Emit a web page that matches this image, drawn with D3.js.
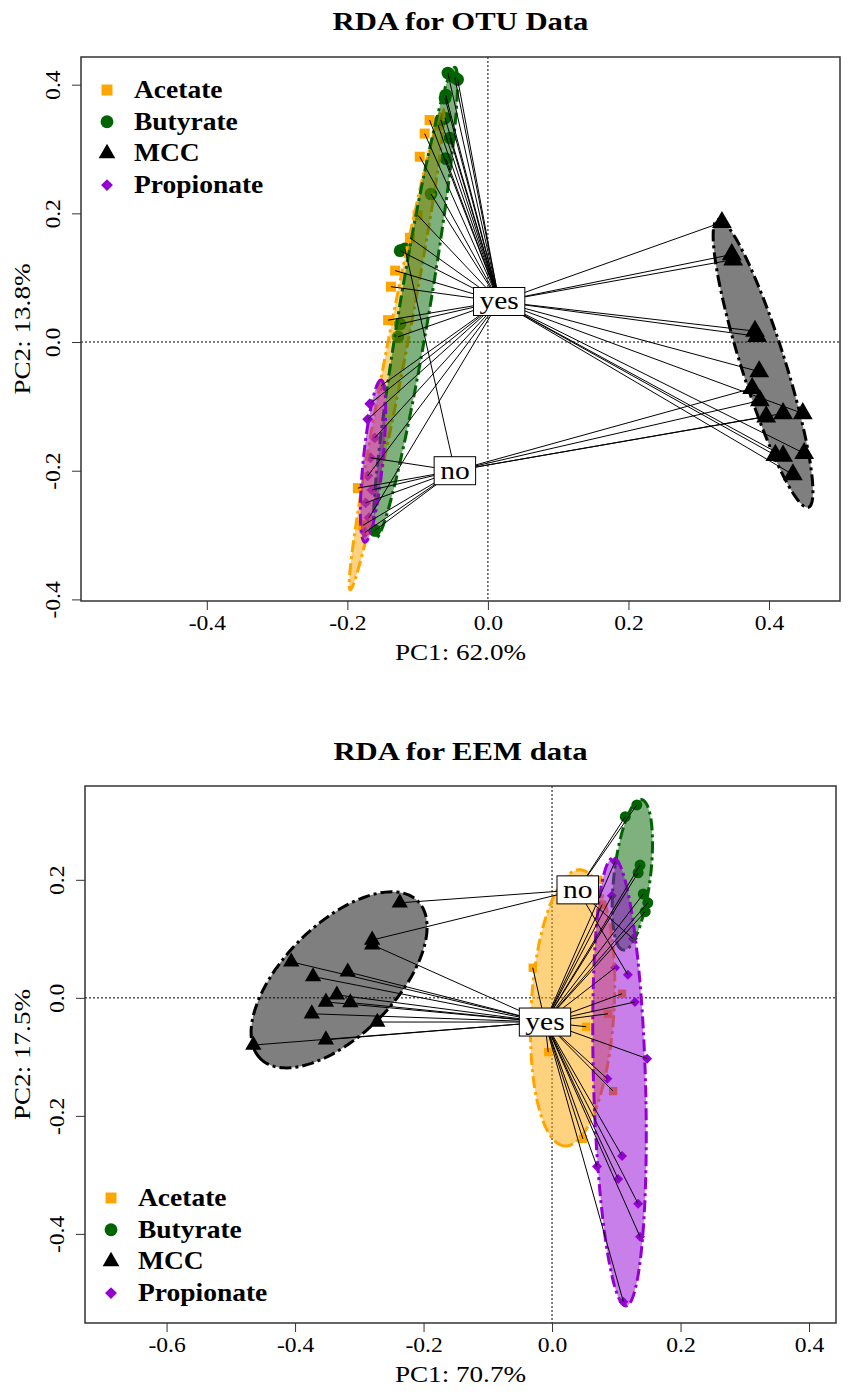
<!DOCTYPE html>
<html>
<head>
<meta charset="utf-8">
<script src="https://cdn.jsdelivr.net/npm/d3@7"></script>
<style>
  body { margin: 0; background: #fff; }
  text { font-family: "Liberation Serif", "Times New Roman", serif; fill: #000; }
</style>
</head>
<body>
<svg id="chart" width="851" height="1396"></svg>
<script>
// groups, shared by both panels
var groups = ["Acetate", "Butyrate", "MCC", "Propionate"]
var colors = ["#FFA500", "#006400", "#000000", "#9400D3"]
var shapes = [d3.symbolSquare, d3.symbolCircle, d3.symbolTriangle, d3.symbolSquare]

// RDA for OTU data: [PC1, PC2, level]
var otuAcetate = [[-0.083, 0.345, "yes"], [-0.071, 0.337, "yes"], [-0.090, 0.324, "yes"], [-0.097, 0.288, "yes"],
  [-0.100, 0.197, "yes"], [-0.111, 0.162, "yes"], [-0.132, 0.111, "yes"], [-0.138, 0.086, "yes"],
  [-0.142, 0.034, "yes"], [-0.185, -0.227, "no"], [-0.178, -0.285, "no"]]
var otuButyrate = [[-0.057, 0.418, "yes"], [-0.047, 0.411, "yes"], [-0.043, 0.408, "yes"], [-0.060, 0.384, "yes"],
  [-0.061, 0.379, "yes"], [-0.061, 0.348, "yes"], [-0.067, 0.345, "yes"], [-0.054, 0.317, "yes"],
  [-0.060, 0.285, "yes"], [-0.081, 0.230, "yes"], [-0.118, 0.145, "no"], [-0.125, 0.142, "yes"],
  [-0.125, 0.028, "yes"], [-0.128, 0.008, "yes"], [-0.161, -0.293, "no"]]
var otuMCC = [[0.333, 0.186, "yes"], [0.347, 0.136, "yes"], [0.349, 0.128, "yes"], [0.380, 0.017, "yes"],
  [0.383, 0.009, "yes"], [0.386, -0.046, "yes"], [0.376, -0.072, "no"], [0.387, -0.091, "no"],
  [0.396, -0.116, "no"], [0.420, -0.111, "no"], [0.448, -0.111, "yes"], [0.409, -0.176, "yes"],
  [0.420, -0.177, "yes"], [0.450, -0.173, "yes"], [0.434, -0.206, "yes"]]
var otuPropionate = [[-0.152, -0.068, "yes"], [-0.168, -0.096, "yes"], [-0.171, -0.120, "yes"], [-0.161, -0.149, "yes"],
  [-0.167, -0.180, "no"], [-0.171, -0.208, "yes"], [-0.165, -0.230, "no"], [-0.174, -0.250, "no"],
  [-0.169, -0.273, "yes"], [-0.175, -0.296, "no"]]
// ellipses: major axis end points (PC1, PC2, PC1, PC2) and minor/major ratio
var otuEllipses = [[-0.196, -0.385, -0.064, 0.362, 0.04], [-0.159, -0.304, -0.047, 0.427, 0.063],
  [0.456, -0.257, 0.327, 0.190, 0.145], [-0.175, -0.311, -0.152, -0.059, 0.12]]
var otuLevels = ["yes", "no"]
var otuCentroidX = [0.016, -0.047]
var otuCentroidY = [0.063, -0.200]

// RDA for EEM data
var eemAcetate = [[-0.030, 0.051, "yes"], [-0.006, -0.092, "yes"], [0.053, -0.049, "yes"], [0.087, -0.027, "yes"],
  [0.109, 0.007, "yes"], [0.095, -0.158, "yes"], [0.048, -0.239, "yes"], [0.072, 0.200, "no"], [0.078, 0.158, "yes"]]
var eemButyrate = [[0.132, 0.327, "no"], [0.114, 0.307, "no"], [0.137, 0.225, "yes"], [0.134, 0.212, "yes"],
  [0.142, 0.176, "yes"], [0.149, 0.161, "yes"], [0.145, 0.146, "yes"]]
var eemMCC = [[-0.237, 0.161, "no"], [-0.280, 0.098, "no"], [-0.280, 0.090, "yes"], [-0.406, 0.061, "yes"],
  [-0.318, 0.044, "yes"], [-0.372, 0.036, "yes"], [-0.335, 0.005, "yes"], [-0.352, -0.007, "yes"],
  [-0.314, -0.008, "yes"], [-0.374, -0.027, "yes"], [-0.272, -0.041, "yes"], [-0.352, -0.071, "yes"],
  [-0.465, -0.080, "yes"]]
var eemPropionate = [[0.098, 0.231, "yes"], [0.093, 0.173, "yes"], [0.126, 0.100, "no"], [0.118, 0.039, "no"],
  [0.098, 0.051, "yes"], [0.129, -0.007, "yes"], [0.148, -0.103, "yes"], [0.086, -0.137, "yes"],
  [0.109, -0.268, "yes"], [0.070, -0.286, "yes"], [0.103, -0.307, "yes"], [0.134, -0.349, "yes"],
  [0.137, -0.405, "yes"], [0.111, -0.515, "yes"]]
var eemEllipses = [[0.044, 0.217, 0.020, -0.251, 0.30], [0.139, 0.336, 0.111, 0.081, 0.24],
  [-0.209, 0.164, -0.454, -0.103, 0.5], [0.095, 0.237, 0.115, -0.522, 0.116]]
var eemLevels = ["yes", "no"]
var eemCentroidX = [-0.011, 0.040]
var eemCentroidY = [-0.041, 0.183]

var otuTicks = [-0.4, -0.2, 0, 0.2, 0.4]
var eemTicksX = [-0.6, -0.4, -0.2, 0, 0.2, 0.4]
var eemTicksY = [-0.4, -0.2, 0, 0.2]

var SX = 1.18  // the original font is wider than Liberation Serif
var svg = d3.select("#chart")
var fmt = function (v) { return v.toFixed(1) }

function addText(g, x, y, str, size, bold, rotate) {
  return g.append("text")
    .attr("transform", "translate(" + x + "," + y + ")" + (rotate ? " rotate(-90)" : "") + " scale(" + SX + ",1)")
    .attr("text-anchor", "middle")
    .style("font-size", size + "px")
    .style("font-weight", bold ? "bold" : "normal")
    .text(str)
}

function drawPanel(p) {
  var x = d3.scaleLinear().domain(p.xDomain).range([p.left, p.right])
  var y = d3.scaleLinear().domain(p.yDomain).range([p.bottom, p.top])
  var g = svg.append("g")

  // zero lines
  g.append("line").attr("x1", x(0)).attr("x2", x(0)).attr("y1", p.top).attr("y2", p.bottom)
    .attr("stroke", "#000").attr("stroke-width", 1).attr("stroke-dasharray", "2,2")
  g.append("line").attr("x1", p.left).attr("x2", p.right).attr("y1", y(0)).attr("y2", y(0))
    .attr("stroke", "#000").attr("stroke-width", 1).attr("stroke-dasharray", "2,2")

  // points
  p.series.forEach(function (pts, i) {
    g.selectAll(null).data(pts).enter().append("path")
      .attr("transform", function (d) {
        return "translate(" + x(d[0]) + "," + y(d[1]) + ")" + (i == 3 ? " rotate(45)" : "")
      })
      .attr("d", d3.symbol().type(shapes[i]).size(p.sizes[i]))
      .attr("fill", colors[i])
  })

  // ellipses
  p.ellipses.forEach(function (e, i) {
    var x1 = x(e[0]), y1 = y(e[1]), x2 = x(e[2]), y2 = y(e[3])
    var cx = (x1 + x2) / 2, cy = (y1 + y2) / 2
    var a = Math.hypot(x2 - x1, y2 - y1) / 2
    var b = a * e[4]
    var ang = Math.atan2(y2 - y1, x2 - x1)
    var ring = d3.range(0, 160).map(function (k) {
      var t = k / 160 * 2 * Math.PI
      var ex = a * Math.cos(t), ey = b * Math.sin(t)
      return [cx + ex * Math.cos(ang) - ey * Math.sin(ang), cy + ex * Math.sin(ang) + ey * Math.cos(ang)]
    })
    g.append("path")
      .attr("d", d3.line().curve(d3.curveLinearClosed)(ring))
      .attr("fill", colors[i]).attr("fill-opacity", 0.5)
      .attr("stroke", colors[i]).attr("stroke-width", 3)
      .attr("stroke-dasharray", "12,4,3,4")
  })

  // spider lines to the level centroids
  p.series.forEach(function (pts) {
    g.selectAll(null).data(pts).enter().append("line")
      .attr("x1", function (d) { return x(d[0]) })
      .attr("y1", function (d) { return y(d[1]) })
      .attr("x2", function (d) { return x(p.cx[p.levels.indexOf(d[2])]) })
      .attr("y2", function (d) { return y(p.cy[p.levels.indexOf(d[2])]) })
      .attr("stroke", "#000").attr("stroke-width", 1)
  })

  // level labels
  p.levels.forEach(function (lv, i) {
    var lx = x(p.cx[i]), ly = y(p.cy[i])
    var r = g.append("rect")
    var t = addText(g, lx, ly + 8, lv, 25, false, false)
    var w = t.node().getBBox().width * SX + 12
    r.attr("x", lx - w / 2).attr("y", ly - 14).attr("width", w).attr("height", 28)
      .attr("fill", "#fff").attr("stroke", "#000").attr("stroke-width", 1)
  })

  // axes
  var ax = g.append("g").attr("transform", "translate(0," + p.bottom + ")")
    .call(d3.axisBottom(x).tickValues(p.xTicks).tickFormat(fmt).tickSize(9).tickSizeOuter(0))
  ax.select(".domain").remove()
  ax.selectAll("text").attr("y", null).attr("dy", null)
    .attr("transform", "translate(0,29) scale(" + SX + ",1)")
    .style("font-size", "20px").style("font-family", '"Liberation Serif", serif').attr("fill", "#000")

  var ay = g.append("g").attr("transform", "translate(" + p.left + ",0)")
    .call(d3.axisLeft(y).tickValues(p.yTicks).tickFormat(fmt).tickSize(9).tickSizeOuter(0))
  ay.select(".domain").remove()
  ay.selectAll("text").attr("x", null).attr("dy", null)
    .attr("transform", "translate(-21,0) rotate(-90) scale(" + SX + ",1)")
    .attr("text-anchor", "middle")
    .style("font-size", "20px").style("font-family", '"Liberation Serif", serif').attr("fill", "#000")
  g.selectAll(".tick line").attr("stroke", "#333")

  // frame
  g.append("rect").attr("x", p.left).attr("y", p.top)
    .attr("width", p.right - p.left).attr("height", p.bottom - p.top)
    .attr("fill", "none").attr("stroke", "#333").attr("stroke-width", 1.5)

  // titles
  var mid = (p.left + p.right) / 2
  addText(g, mid, p.titleY, p.title, 26, true, false)
  addText(g, mid, p.bottom + 59, p.xlab, 23, false, false)
  addText(g, 30, (p.top + p.bottom) / 2, p.ylab, 23, false, true)

  // legend
  groups.forEach(function (name, i) {
    var ly = p.legY + i * 31.7
    g.append("path")
      .attr("transform", "translate(" + p.legX + "," + ly + ")" + (i == 3 ? " rotate(45)" : ""))
      .attr("d", d3.symbol().type(shapes[i]).size([120, 130, 120, 70][i]))
      .attr("fill", colors[i])
    g.append("text")
      .attr("transform", "translate(" + (p.legX + 27) + "," + (ly + 8) + ") scale(1.1,1)")
      .style("font-size", "25px").style("font-weight", "bold")
      .text(name)
  })
}

drawPanel({
  left: 81, right: 840, top: 57, bottom: 601,
  xDomain: [-0.579, 0.501], yDomain: [-0.4025, 0.443],
  xTicks: otuTicks, yTicks: otuTicks,
  series: [otuAcetate, otuButyrate, otuMCC, otuPropionate],
  ellipses: otuEllipses, sizes: [100, 125, 170, 60],
  levels: otuLevels, cx: otuCentroidX, cy: otuCentroidY,
  title: "RDA for OTU Data", titleY: 30, xlab: "PC1: 62.0%", ylab: "PC2: 13.8%",
  legX: 107, legY: 90
})

drawPanel({
  left: 85, right: 836, top: 786, bottom: 1323,
  xDomain: [-0.727, 0.442], yDomain: [-0.551, 0.359],
  xTicks: eemTicksX, yTicks: eemTicksY,
  series: [eemAcetate, eemButyrate, eemMCC, eemPropionate],
  ellipses: eemEllipses, sizes: [70, 95, 115, 50],
  levels: eemLevels, cx: eemCentroidX, cy: eemCentroidY,
  title: "RDA for EEM data", titleY: 760, xlab: "PC1: 70.7%", ylab: "PC2: 17.5%",
  legX: 111, legY: 1198
})
</script>
</body>
</html>
